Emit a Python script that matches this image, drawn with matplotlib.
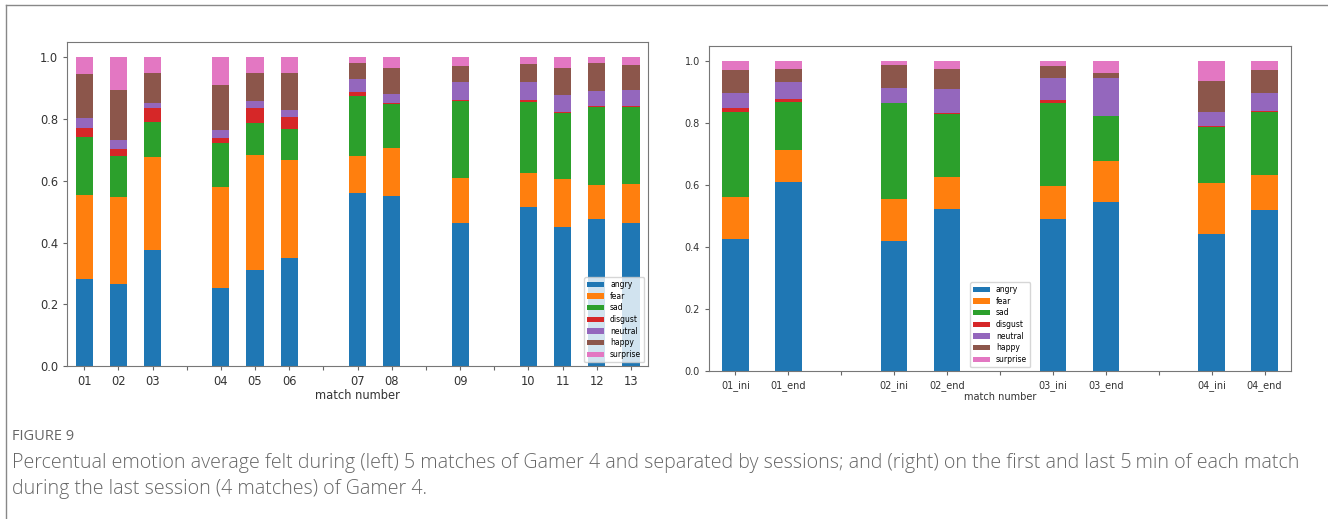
import matplotlib
matplotlib.use('Agg')
import matplotlib.pyplot as plt
import numpy as np
from matplotlib.lines import Line2D

emotions = ['angry', 'fear', 'sad', 'disgust', 'neutral', 'happy', 'surprise']
colors = ['#1f77b4', '#ff7f0e', '#2ca02c', '#d62728', '#9467bd', '#8c564b', '#e377c2']

# left chart: matches, '' = gap between sessions
left_labels = ['01', '02', '03', '', '04', '05', '06', '', '07', '08', '', '09', '', '10', '11', '12', '13']
left_angry = [.283, .265, .377, 0, .253, .310, .349, 0, .561, .550, 0, .465, 0, .516, .451, .476, .464]
left_fear = [.271, .284, .300, 0, .328, .374, .317, 0, .119, .155, 0, .145, 0, .111, .154, .112, .127]
left_sad = [.187, .131, .114, 0, .142, .105, .103, 0, .194, .143, 0, .249, 0, .227, .216, .250, .249]
left_disgust = [.031, .022, .044, 0, .015, .048, .039, 0, .014, .004, 0, .004, 0, .007, .001, .006, .004]
left_neutral = [.031, .030, .016, 0, .026, .021, .023, 0, .041, .030, 0, .057, 0, .059, .057, .047, .049]
left_happy = [.143, .161, .099, 0, .148, .090, .117, 0, .054, .083, 0, .053, 0, .059, .086, .090, .084]
left_surprise = [.054, .107, .050, 0, .088, .052, .052, 0, .017, .035, 0, .027, 0, .021, .035, .019, .023]

# right chart: first / last 5 min of each match
right_labels = ['01_ini', '01_end', '', '02_ini', '02_end', '', '03_ini', '03_end', '', '04_ini', '04_end']
right_angry = [.428, .610, 0, .419, .523, 0, .492, .545, 0, .441, .521]
right_fear = [.135, .104, 0, .136, .104, 0, .107, .135, 0, .167, .111]
right_sad = [.275, .155, 0, .310, .203, 0, .268, .143, 0, .181, .205]
right_disgust = [.012, .010, 0, .002, .004, 0, .007, .000, 0, .003, .003]
right_neutral = [.047, .054, 0, .047, .077, 0, .074, .125, 0, .044, .058]
right_happy = [.076, .042, 0, .073, .064, 0, .036, .015, 0, .100, .075]
right_surprise = [.027, .025, 0, .013, .025, 0, .016, .037, 0, .064, .027]

left_series = [left_angry, left_fear, left_sad, left_disgust, left_neutral, left_happy, left_surprise]
right_series = [right_angry, right_fear, right_sad, right_disgust, right_neutral, right_happy, right_surprise]


def stacked(ax, labels, series, fs, legend_loc):
    x = np.arange(len(labels))
    bottom = np.zeros(len(labels))
    for name, vals, c in zip(emotions, series, colors):
        vals = np.array(vals)
        ax.bar(x, vals, 0.5, bottom=bottom, color=c, label=name)
        bottom += vals
    ax.set_xticks(x)
    ax.set_xticklabels(labels, fontsize=fs, color='#333333')
    ax.set_xlim(-0.5, len(labels) - 0.5)
    ax.set_ylim(0, 1.05)
    ax.set_yticks([0, .2, .4, .6, .8, 1.0])
    ax.tick_params(axis='y', labelsize=fs, labelcolor='#333333')
    ax.tick_params(length=3, color='#666666')
    for s in ax.spines.values():
        s.set_color('#777777')
    ax.set_xlabel('match number', fontsize=fs, color='#333333', labelpad=1)
    ax.legend(loc=legend_loc, fontsize=5.5, handlelength=2.2, borderpad=0.4,
              labelspacing=0.35, framealpha=0.8)


fig = plt.figure(figsize=(13.28, 5.19), dpi=100)
ax1 = fig.add_axes([0.0505, 0.2948, 0.4375, 0.6243])
ax2 = fig.add_axes([0.5339, 0.2852, 0.4383, 0.6262])
stacked(ax1, left_labels, left_series, 8.3, 'lower right')
stacked(ax2, right_labels, right_series, 7.0, 'lower center')

# frame of the figure panel
fig.add_artist(Line2D([6 / 1328, 1], [1 - 5 / 519, 1 - 5 / 519], color='#888888', lw=1))
fig.add_artist(Line2D([6 / 1328, 6 / 1328], [0, 1 - 5 / 519], color='#888888', lw=1))

fig.text(12 / 1328, 1 - 437 / 519, 'FIGURE 9', fontsize=10.5, color='#666666',
         family='Open Sans', va='center')
fig.text(12 / 1328, 1 - 463 / 519,
         'Percentual emotion average felt during (left) 5 matches of Gamer 4 and separated by sessions; '
         'and (right) on the first and last 5\u2009min of each match',
         fontsize=14.1, color='#666666', family='Open Sans', fontweight='light', va='center')
fig.text(12 / 1328, 1 - 489 / 519, 'during the last session (4 matches) of Gamer 4.',
         fontsize=14.1, color='#666666', family='Open Sans', fontweight='light', va='center')

fig.savefig('out.png', dpi=100)
